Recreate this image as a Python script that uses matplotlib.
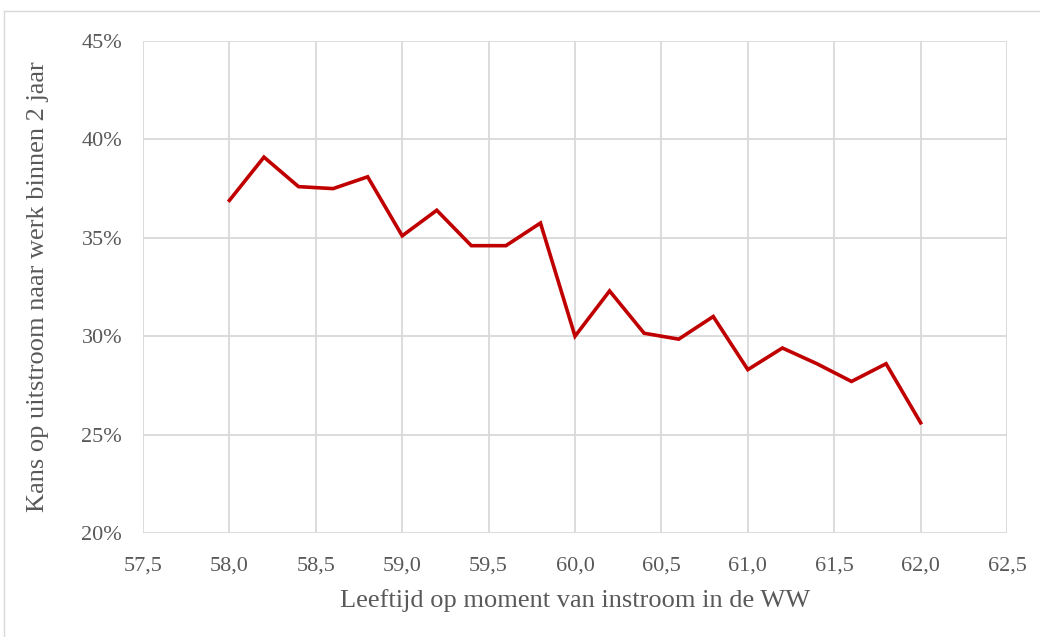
import numpy as np
import matplotlib.pyplot as plt
from matplotlib.lines import Line2D
from matplotlib.ticker import FuncFormatter

# Data
leeftijd = [58.0, 58.2, 58.4, 58.6, 58.8, 59.0, 59.2, 59.4, 59.6, 59.8,
            60.0, 60.2, 60.4, 60.6, 60.8, 61.0, 61.2, 61.4, 61.6, 61.8, 62.0]
kans = [36.9, 39.1, 37.6, 37.5, 38.1, 35.1, 36.4, 34.6, 34.6, 35.75,
        30.0, 32.3, 30.15, 29.85, 31.0, 28.3, 29.4, 28.6, 27.7, 28.6, 25.6]

x_ticks = np.arange(57.5, 62.51, 0.5)
y_ticks = [20, 25, 30, 35, 40, 45]

plt.rcParams['font.family'] = ['Liberation Serif', 'DejaVu Serif']
text_col = '#595959'
grid_col = '#d9d9d9'

fig = plt.figure(figsize=(10.4, 6.37), dpi=100)
ax = fig.add_axes([0.1375, 0.1633, 0.8308, 0.7723])

ax.plot(leeftijd, kans, color='#c00000', linewidth=2.6, solid_joinstyle='miter')

ax.set_xlim(57.5, 62.5)
ax.set_ylim(20, 45)
ax.set_xticks(x_ticks)
ax.set_yticks(y_ticks)
ax.xaxis.set_major_formatter(FuncFormatter(lambda v, p: f'{v:.1f}'.replace('.', ',')))
ax.yaxis.set_major_formatter(FuncFormatter(lambda v, p: f'{v:.0f}%'))
ax.grid(True, color=grid_col, linewidth=1.3)
ax.set_axisbelow(True)
for s in ax.spines.values():
    s.set_visible(False)
ax.tick_params(axis='x', length=0, labelsize=16, labelcolor=text_col, pad=17)
ax.tick_params(axis='y', length=0, labelsize=16, labelcolor=text_col, pad=15)

ax.set_xlabel('Leeftijd op moment van instroom in de WW', fontsize=19,
              color=text_col, labelpad=10)
ax.set_ylabel('Kans op uitstroom naar werk binnen 2 jaar', fontsize=19,
              color=text_col, labelpad=23)

# outer chart border (top and left visible)
fig.add_artist(Line2D([4/1040, 4/1040], [0, 1 - 11/637], transform=fig.transFigure,
                      color=grid_col, linewidth=1))
fig.add_artist(Line2D([4/1040, 1], [1 - 11/637, 1 - 11/637], transform=fig.transFigure,
                      color=grid_col, linewidth=1))

fig.savefig('out.png', dpi=100)
